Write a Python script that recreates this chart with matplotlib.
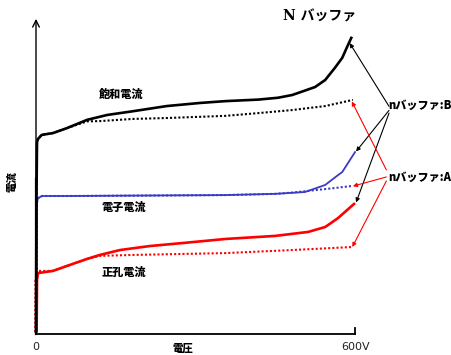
import matplotlib
matplotlib.use("Agg")
import matplotlib.pyplot as plt

plt.rcParams['font.family'] = ['Noto Sans CJK JP', 'DejaVu Sans']

# Voltage (V) and current (arbitrary units) for each characteristic
sat_v = [0, 0.9, 1.9, 3.8, 10.7, 32, 58, 96, 134, 182, 246, 308, 356, 418, 455, 482, 525, 544, 562, 576, 585, 593]
sat_i = [0, 43, 61.9, 62.9, 64.2, 64.8, 66.4, 69.1, 70.7, 71.9, 73.6, 74.6, 75.2, 75.7, 76.3, 77.2, 79.8, 82.1, 86.0, 89.3, 92.8, 95.8]
sat_flat_v = [0, 0.9, 1.9, 3.8, 10.7, 32, 58, 96, 120, 182, 246, 356, 418, 482, 544, 596]
sat_flat_i = [0, 43, 61.9, 62.9, 64.2, 64.8, 66.4, 68.6, 68.7, 69.4, 69.7, 70.4, 71.3, 72.3, 73.6, 75.6]

ele_v = [1.0, 1.9, 3.8, 11.3, 58, 356, 450, 506, 544, 556, 568, 576, 600]
ele_i = [0, 42.3, 43.6, 44.3, 44.3, 44.6, 45.0, 45.6, 47.9, 49.5, 51.1, 52.1, 58.6]
ele_flat_v = [1.0, 1.9, 3.8, 11.3, 58, 356, 450, 482, 562, 596]
ele_flat_i = [0, 42.3, 43.6, 44.3, 44.3, 44.6, 45.0, 45.4, 46.9, 47.6]

hole_v = [1.2, 1.9, 3.8, 32, 58, 96, 120, 158, 214, 277, 356, 450, 512, 544, 568, 600]
hole_i = [0, 16.9, 19.2, 19.9, 21.5, 23.8, 25.1, 26.7, 28.0, 29.0, 30.3, 31.3, 32.6, 34.2, 37.1, 42.0]
hole_flat_v = [-1.5, -1.0, 1.9, 3.8, 32, 58, 96, 120, 182, 356, 482, 596]
hole_flat_i = [0, 16.9, 19.2, 19.9, 19.9, 21.5, 23.8, 24.8, 25.1, 25.7, 26.7, 27.7]

x_ticks = [0, 600]
x_tick_labels = ["0", "600V"]

BLUE = "#3a3ac8"
RED = "#ff0000"

fig = plt.figure(figsize=(4.51, 3.55), dpi=100)
ax = fig.add_axes([36 / 451, 23 / 355, 319 / 451, 307 / 355])
ax.set_xlim(0, 600)
ax.set_ylim(0, 100)
ax.axis('off')

dot = (0, (1, 1))
ax.plot(hole_flat_v, hole_flat_i, color=RED, lw=1.5, ls=dot, clip_on=False)
ax.plot(hole_v, hole_i, color=RED, lw=1.9, clip_on=False, solid_capstyle='butt')
ax.plot(ele_flat_v, ele_flat_i, color=BLUE, lw=1.5, ls=dot, clip_on=False)
ax.plot(ele_v, ele_i, color=BLUE, lw=1.3, clip_on=False)
ax.plot(sat_flat_v, sat_flat_i, color='black', lw=1.5, ls=dot, clip_on=False)
ax.plot(sat_v, sat_i, color='black', lw=1.9, clip_on=False)

# Axes drawn by hand: y-axis with open arrow head, x-axis with end tick
ax.annotate('', xy=(0, 102), xytext=(0, -0.5), xycoords='data',
            arrowprops=dict(arrowstyle='->', lw=1.0, color='black',
                            mutation_scale=12, shrinkA=0, shrinkB=0),
            annotation_clip=False)
ax.plot([0, 0], [-0.5, 50], color='black', lw=1.6, clip_on=False)
ax.plot([0, 600], [-0.5, -0.5], color='black', lw=1.3, clip_on=False)
ax.plot([600, 600], [-0.5, 1.2], color='black', lw=1.3, clip_on=False)

for v, lab in zip(x_ticks, x_tick_labels):
    ax.text(v + (1 if v else 0), -3.2, lab, ha='center', va='top', fontsize=8,
            family=['DejaVu Sans'], color='#222222')

fig.text(183 / 451, 1 / 355, "電圧", ha='center', va='bottom', fontsize=7.5, fontweight='heavy')
fig.text(12 / 451, 1 - 182 / 355, "電流", rotation=90, ha='center', va='center',
         fontsize=7.5, fontweight='heavy')

ax.text(160, 77.5, "飽和電流", ha='center', va='center', fontsize=8, fontweight='heavy')
ax.text(165, 40.7, "電子電流", ha='center', va='center', fontsize=8, fontweight='heavy')
ax.text(165, 19.5, "正孔電流", ha='center', va='center', fontsize=8, fontweight='heavy')

fig.text(320 / 451, 1 - 16 / 355, "N バッファ", ha='center', va='center',
         fontsize=10, fontweight='bold', family=['DejaVu Serif', 'Noto Sans CJK JP'])

# Label positions for the two buffer designs
b_label = (662, 74.0)
a_label = (662, 50.5)
ax.text(b_label[0], b_label[1], "nバッファ:B", ha='left', va='center',
        fontsize=8, fontweight='heavy', clip_on=False)
ax.text(a_label[0], a_label[1], "nバッファ:A", ha='left', va='center',
        fontsize=8, fontweight='heavy', clip_on=False)

arrow_kw = dict(arrowstyle='-|>', mutation_scale=6, shrinkA=0, shrinkB=0)

# B: solid curves
for (tv, ti), oi in [((sat_v[-1] - 3, sat_i[-1] - 1.7), 73.5),
                     ((ele_v[-1] + 2, ele_i[-1] + 0.2), 72.2),
                     ((hole_v[-1] + 2, hole_i[-1] + 0.2), 71.3)]:
    ax.annotate('', xy=(tv, ti), xytext=(664, oi),
                arrowprops=dict(color='black', lw=0.8, **arrow_kw),
                annotation_clip=False)

# A: dotted curves
for (tv, ti), oi in [((sat_flat_v[-1] - 2, sat_flat_i[-1] - 0.5), 52.8),
                     ((ele_flat_v[-1], ele_flat_i[-1] - 0.1), 50.5),
                     ((hole_flat_v[-1] - 1, hole_flat_i[-1]), 49.2)]:
    ax.annotate('', xy=(tv, ti), xytext=(659, oi),
                arrowprops=dict(color=RED, lw=0.8, **arrow_kw),
                annotation_clip=False)

fig.savefig("out.png", dpi=100, facecolor='white')
